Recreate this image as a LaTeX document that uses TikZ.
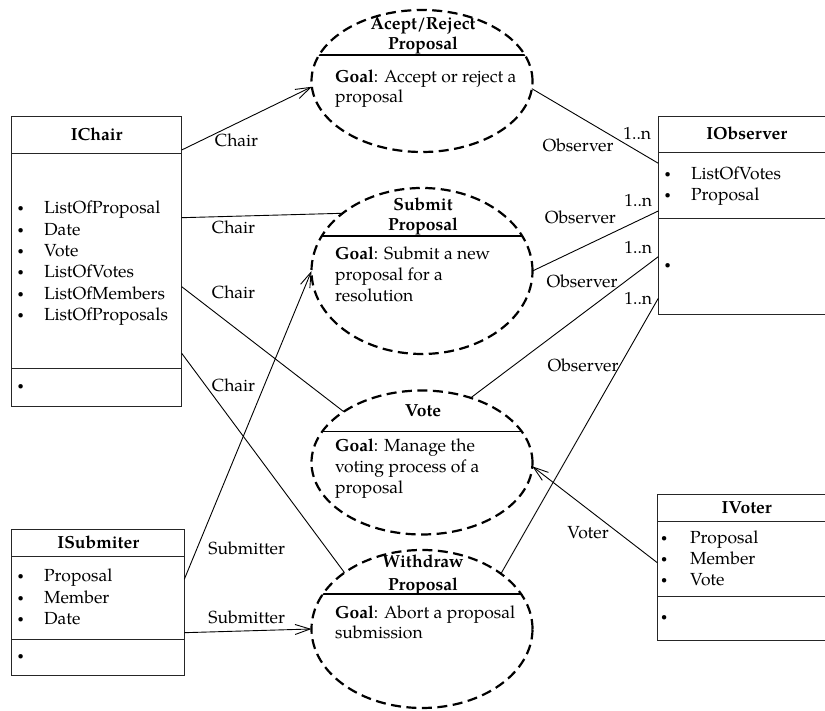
\documentclass[tikz,border=0pt]{standalone}
\usepackage{fontspec}
\setmainfont{TeX Gyre Pagella}
\usetikzlibrary{shapes.geometric,arrows.meta}
\begin{document}
\begin{tikzpicture}[x=1pt,y=1pt,
  every node/.style={font=\fontsize{17.5}{21.3}\selectfont, inner sep=0pt, outer sep=0pt},
  txt/.style={anchor=base west},
  ctr/.style={anchor=base},
  blt/.style={anchor=base, yshift=2pt, font=\fontsize{11}{13}\selectfont},
  ttl/.style={anchor=base, font=\fontsize{17.5}{21.3}\selectfont\bfseries},
  classbox/.style={draw=black!85, line width=1pt, anchor=north west},
  sep/.style={draw=black!85, line width=1pt},
  usecase/.style={ellipse, draw, line width=2.2pt, dash pattern=on 10pt off 5.5pt, minimum width=221pt},
  ucsep/.style={line width=1.4pt},
  conn/.style={line width=0.9pt},
  arr/.style={conn, -{Straight Barb[length=15pt,width=10pt]}}
]
\useasboundingbox (0,0) rectangle (825,711);
\clip (0,0) rectangle (825,711);

% ---------- class boxes ----------
\node[classbox, minimum width=170pt, minimum height=290pt] (ichair) at (11.7,594.3) {};
\draw[sep] (ichair.west |- 0,557) -- (ichair.east |- 0,557);
\draw[sep] (ichair.west |- 0,342) -- (ichair.east |- 0,342);
\node[ttl] (ichairT) at (96.7,570.3) {IChair};
\node[blt] (ichB1) at (20.7,497) {\textbullet};
\node[txt] (ichI1) at (44,497) {ListOfProposal};
\node[blt] (ichB2) at (20.7,475.7) {\textbullet};
\node[txt] (ichI2) at (44,475.7) {Date};
\node[blt] (ichB3) at (20.7,454.4) {\textbullet};
\node[txt] (ichI3) at (44,454.4) {Vote};
\node[blt] (ichB4) at (20.7,433.1) {\textbullet};
\node[txt] (ichI4) at (44,433.1) {ListOfVotes};
\node[blt] (ichB5) at (20.7,411.8) {\textbullet};
\node[txt] (ichI5) at (44,411.8) {ListOfMembers};
\node[blt] (ichB6) at (20.7,390.5) {\textbullet};
\node[txt] (ichI6) at (44,390.5) {ListOfProposals};
\node[blt] (ichB7) at (20.7,319) {\textbullet};

\node[classbox, minimum width=177pt, minimum height=198.3pt] (iobs) at (658.3,594.3) {};
\draw[sep] (iobs.west |- 0,558.7) -- (iobs.east |- 0,558.7);
\draw[sep] (iobs.west |- 0,492.7) -- (iobs.east |- 0,492.7);
\node[ttl] (iobsT) at (746.7,571) {IObserver};
\node[blt] (iobB1) at (667.7,531) {\textbullet};
\node[txt] (iobI1) at (691,531) {ListOfVotes};
\node[blt] (iobB2) at (667.7,510) {\textbullet};
\node[txt] (iobI2) at (691,510) {Proposal};
\node[blt] (iobB3) at (667.7,440) {\textbullet};

\node[classbox, minimum width=172.6pt, minimum height=145.7pt] (isub) at (11.7,181) {};
\draw[sep] (isub.west |- 0,154.3) -- (isub.east |- 0,154.3);
\draw[sep] (isub.west |- 0,71.7) -- (isub.east |- 0,71.7);
\node[ttl] (isubT) at (98.3,162.7) {ISubmiter};
\node[blt] (isB1) at (20.7,129.3) {\textbullet};
\node[txt] (isI1) at (44,129.3) {Proposal};
\node[blt] (isB2) at (20.7,107.7) {\textbullet};
\node[txt] (isI2) at (44,107.7) {Member};
\node[blt] (isB3) at (20.7,86) {\textbullet};
\node[txt] (isI3) at (44,86) {Date};
\node[blt] (isB4) at (20.7,49) {\textbullet};

\node[classbox, minimum width=178pt, minimum height=146pt] (ivot) at (657.3,216) {};
\draw[sep] (ivot.west |- 0,189.3) -- (ivot.east |- 0,189.3);
\draw[sep] (ivot.west |- 0,114.3) -- (ivot.east |- 0,114.3);
\node[ttl] (ivotT) at (746.7,197.7) {IVoter};
\node[blt] (ivB1) at (664.3,167.7) {\textbullet};
\node[txt] (ivI1) at (690,167.7) {Proposal};
\node[blt] (ivB2) at (664.3,146.7) {\textbullet};
\node[txt] (ivI2) at (690,146.7) {Member};
\node[blt] (ivB3) at (664.3,125) {\textbullet};
\node[txt] (ivI3) at (690,125) {Vote};
\node[blt] (ivB4) at (664.3,88.5) {\textbullet};

% ---------- use cases ----------
\node[usecase, minimum height=142pt] (acc) at (422,630) {};
\begin{scope}
  \clip (acc.center) ellipse [x radius=110.5, y radius=71];
  \draw[ucsep] (300,656) -- (545,656);
\end{scope}
\node[ttl] (accT1) at (423,681) {Acept/Reject};
\node[ttl] (accT2) at (423,661) {Proposal};
\node[txt] (accG1) at (335,628.3) {\textbf{Goal}: Accept or reject a};
\node[txt] (accG2) at (335,608.3) {proposal};

\node[usecase, minimum height=166pt] (sub) at (422,440) {};
\begin{scope}
  \clip (sub.center) ellipse [x radius=110.5, y radius=83];
  \draw[ucsep] (300,475) -- (545,475);
\end{scope}
\node[ttl] (subT1) at (423,500.3) {Submit};
\node[ttl] (subT2) at (423,480.3) {Proposal};
\node[txt] (subG1) at (335,451) {\textbf{Goal}: Submit a new};
\node[txt] (subG2) at (335,430.3) {proposal for a};
\node[txt] (subG3) at (335,409.6) {resolution};

\node[usecase, minimum height=144pt] (vote) at (422,248.5) {};
\begin{scope}
  \clip (vote.center) ellipse [x radius=110.5, y radius=72];
  \draw[ucsep] (300,279.3) -- (545,279.3);
\end{scope}
\node[ttl] (voteT1) at (423,294.3) {Vote};
\node[txt] (voteG1) at (335,259.3) {\textbf{Goal}: Manage the};
\node[txt] (voteG2) at (335,238.4) {voting process of a};
\node[txt] (voteG3) at (335,217.5) {proposal};

\node[usecase, minimum height=158pt] (wd) at (422,82) {};
\begin{scope}
  \clip (wd.center) ellipse [x radius=110.5, y radius=79];
  \draw[ucsep] (300,117) -- (545,117);
\end{scope}
\node[ttl] (wdT1) at (423,143) {Withdraw};
\node[ttl] (wdT2) at (423,120.5) {Proposal};
\node[txt] (wdG1) at (335,92.7) {\textbf{Goal}: Abort a proposal};
\node[txt] (wdG2) at (335,72) {submission};

% ---------- connectors ----------
\draw[arr] ([yshift=-33.3pt]ichair.north east) -- (acc.183.8);
\draw[conn] ([yshift=-101pt]ichair.north east) -- (sub.144.3);
\draw[conn] ([yshift=-170pt]ichair.north east) -- (vote.147.5);
\draw[conn] ([yshift=-236.6pt]ichair.north east) -- (wd.144.1);
\draw[arr] ([yshift=-49.3pt]isub.north east) -- (sub.180);
\draw[arr] ([yshift=-102.7pt]isub.north east) -- (wd.180);
\draw[conn] (acc.356.3) -- ([yshift=-46.6pt]iobs.north west);
\draw[conn] (sub.0) -- ([yshift=-94.3pt]iobs.north west);
\draw[conn] (vote.53.9) -- ([yshift=-140pt]iobs.north west);
\draw[conn] (wd.35.2) -- ([yshift=-181.6pt]iobs.north west);
\draw[arr] ([yshift=-67.7pt]ivot.north west) -- (vote.358.7);

% ---------- labels ----------
\node[ctr] (l1) at (236.5,564.3) {Chair};
\node[ctr] (l2) at (233.5,477.7) {Chair};
\node[ctr] (l3) at (233.5,412.7) {Chair};
\node[ctr] (l4) at (233.5,319.3) {Chair};
\node[ctr] (l5) at (246.7,156) {Submitter};
\node[ctr] (l6) at (246.7,87.7) {Submitter};
\node[ctr] (l7) at (578,559.3) {Observer};
\node[ctr] (m7) at (637.3,571.7) {1..n};
\node[ctr] (l8) at (580.3,487.7) {Observer};
\node[ctr] (m8) at (638.3,504.3) {1..n};
\node[ctr] (l9) at (582,423.7) {Observer};
\node[ctr] (m9) at (638.3,457) {1..n};
\node[ctr] (l10) at (583,339.3) {Observer};
\node[ctr] (m10) at (638.3,406) {1..n};
\node[ctr] (l11) at (588,172.7) {Voter};
\end{tikzpicture}
\end{document}
